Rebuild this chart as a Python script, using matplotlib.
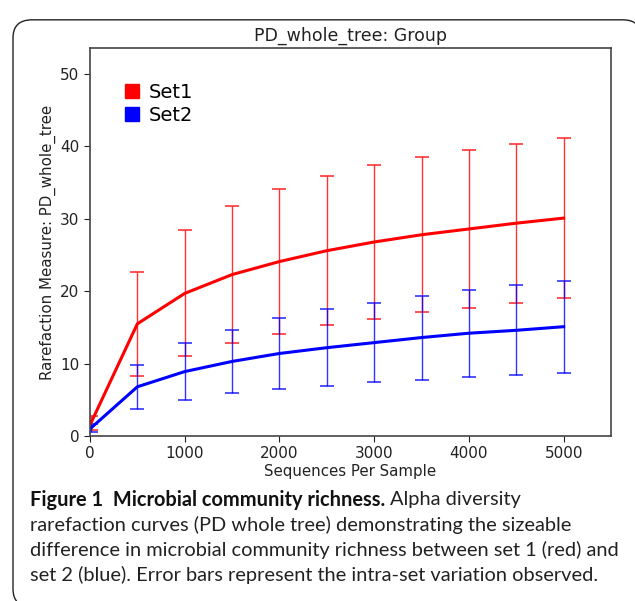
import matplotlib.pyplot as plt
from matplotlib.patches import FancyBboxPatch, Patch

# rarefaction depths
depths = [10, 500, 1000, 1500, 2000, 2500, 3000, 3500, 4000, 4500, 5000]

# Set1 (red) mean and std
set1_mean = [1.8, 15.5, 19.7, 22.3, 24.1, 25.6, 26.8, 27.8, 28.6, 29.4, 30.1]
set1_err = [1.0, 7.2, 8.7, 9.5, 10.0, 10.3, 10.6, 10.7, 10.9, 11.0, 11.1]

# Set2 (blue) mean and std
set2_mean = [1.1, 6.8, 8.9, 10.3, 11.4, 12.2, 12.9, 13.6, 14.2, 14.6, 15.1]
set2_err = [0.5, 3.05, 3.95, 4.35, 4.9, 5.3, 5.5, 5.8, 6.0, 6.2, 6.35]

xticks = [0, 1000, 2000, 3000, 4000, 5000]
yticks = [0, 10, 20, 30, 40, 50]

caption_bold = "Figure 1  Microbial community richness."
caption_first = "Alpha diversity"
caption_lines = [
    "rarefaction curves (PD whole tree) demonstrating the sizeable",
    "difference in microbial community richness between set 1 (red) and",
    "set 2 (blue). Error bars represent the intra-set variation observed.",
]


def main():
    fig = plt.figure(figsize=(6.35, 6.01), dpi=100)

    box = FancyBboxPatch(
        (13 / 635, -0.01), 0.99, 0.977,
        boxstyle="round,pad=0,rounding_size=0.03",
        transform=fig.transFigure, facecolor="white",
        edgecolor="#222222", linewidth=1.0, zorder=-10,
    )
    fig.patches.append(box)

    ax = fig.add_axes([90 / 635, 1 - 436 / 601, 521 / 635, 388 / 601])

    ax.errorbar(depths, set1_mean, yerr=set1_err, color="red",
                linewidth=2.2, elinewidth=1.0, capsize=5, capthick=1.2,
                ecolor=(1, 0, 0, 0.8))
    ax.errorbar(depths, set2_mean, yerr=set2_err, color="blue",
                linewidth=2.2, elinewidth=1.0, capsize=5, capthick=1.2,
                ecolor=(0, 0, 1, 0.8))

    ax.set_xlim(0, 5500)
    ax.set_ylim(0, 53.6)
    ax.set_xticks(xticks)
    ax.set_yticks(yticks)
    ax.tick_params(labelsize=11, colors="#222222", length=4)
    for s in ax.spines.values():
        s.set_color("#444444")
        s.set_linewidth(1.2)

    ax.set_title("PD_whole_tree: Group", fontsize=12.5, pad=5, color="#222222")
    ax.set_xlabel("Sequences Per Sample", fontsize=10.8, labelpad=2, color="#222222")
    ax.set_ylabel("Rarefaction Measure: PD_whole_tree", fontsize=10.8,
                  labelpad=3, color="#222222")

    handles = [Patch(color="red", label="Set1"), Patch(color="blue", label="Set2")]
    ax.legend(handles=handles, loc="upper left", frameon=False, fontsize=14,
              handlelength=0.75, handleheight=0.75, handletextpad=0.5,
              labelspacing=0.2, borderaxespad=0.0, bbox_to_anchor=(0.052, 0.93))

    fam = ["Lato", "DejaVu Sans"]
    fs = 14.4
    t = fig.text(30 / 635, 1 - 500 / 601, caption_bold, fontsize=fs,
                 fontweight="bold", family=fam, va="center", color="#111111")
    fig.canvas.draw()
    bb = t.get_window_extent(renderer=fig.canvas.get_renderer())
    fig.text((bb.x1 + 5) / 635, 1 - 500 / 601, caption_first, fontsize=fs,
             family=fam, va="center", color="#222222")
    for i, line in enumerate(caption_lines):
        fig.text(30 / 635, 1 - (525 + 25 * i) / 601, line, fontsize=fs,
                 family=fam, va="center", color="#222222")

    fig.savefig("out.png", dpi=100)


if __name__ == "__main__":
    main()
